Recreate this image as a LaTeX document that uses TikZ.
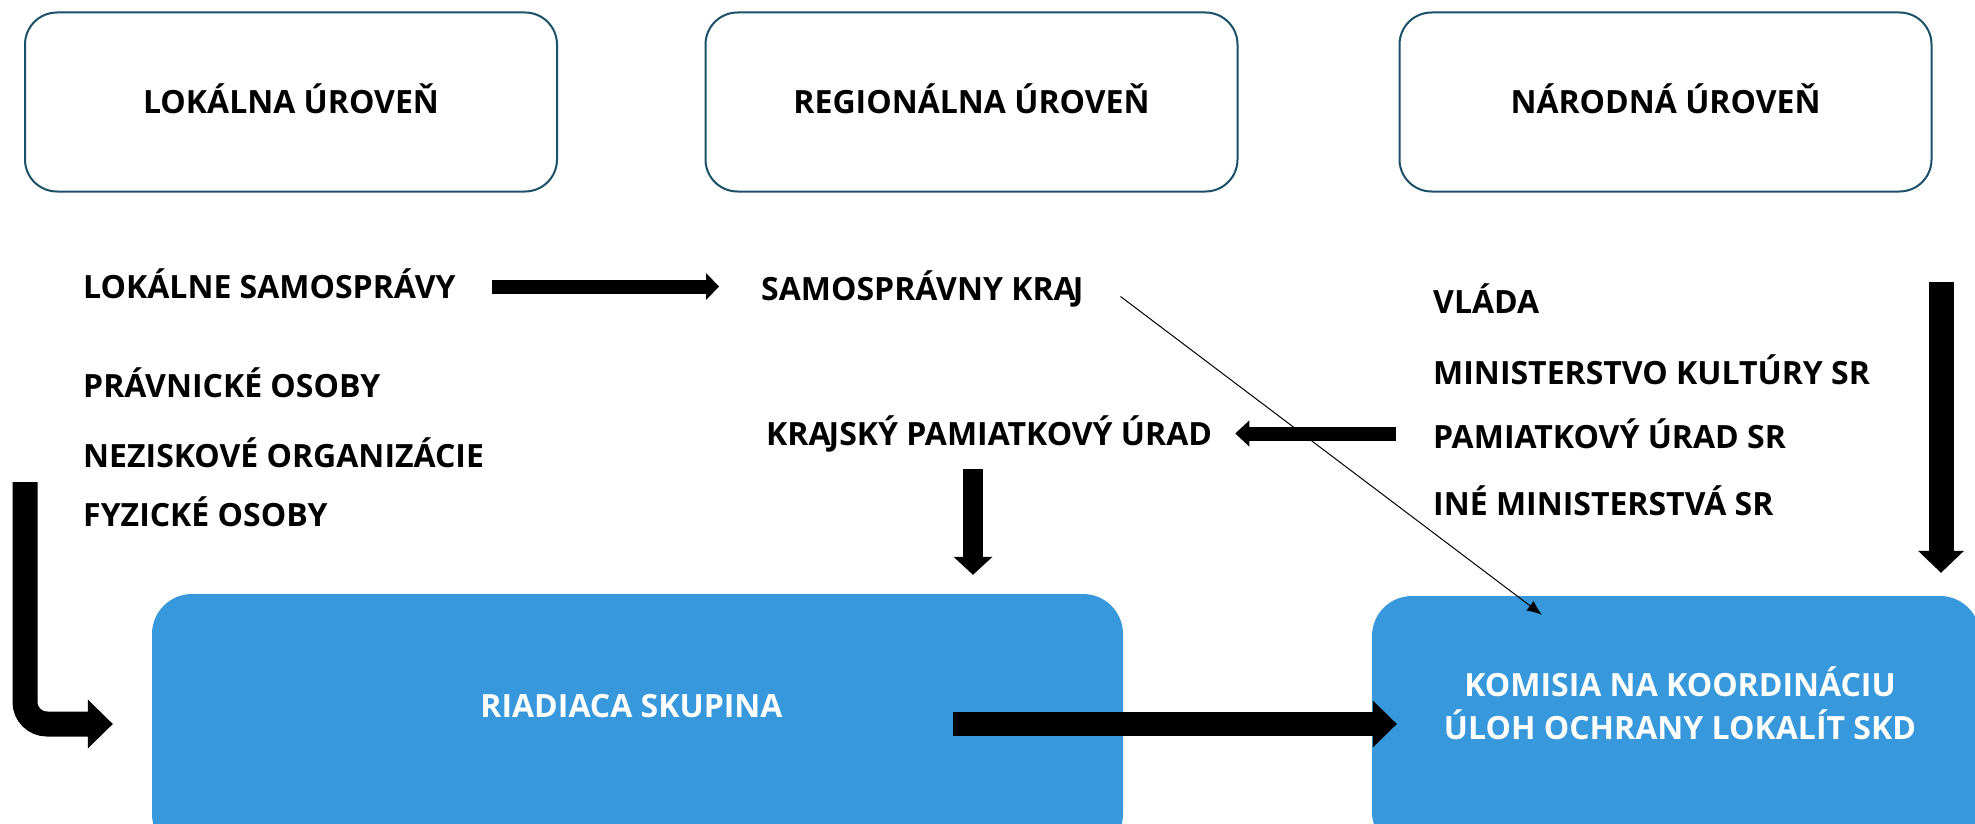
\documentclass[tikz,border=0pt]{standalone}
\usepackage{fontspec}
\setmainfont{Open Sans}
\usepackage{xcolor}
\usetikzlibrary{arrows.meta, positioning}
\definecolor{lvledge}{HTML}{1A5068}
\definecolor{skdblue}{HTML}{3798DB}

\begin{document}
\begin{tikzpicture}[x=1pt, y=-1pt,
  font=\fontsize{32pt}{43pt}\selectfont\bfseries,
  lvl/.style={draw=lvledge, line width=2pt, rounded corners=32pt, minimum width=532pt, minimum height=179pt, inner sep=0pt, text height=23pt, text depth=0pt},
  item/.style={anchor=base west, inner sep=0pt, text height=23pt, text depth=0pt},
  blue/.style={fill=skdblue, rounded corners=40pt, inner sep=0pt},
  blk/.style n args={3}{line width=#1, -{Triangle[length=#2, width=#3, line width=0pt]}}
]
\useasboundingbox (0,0) rectangle (1975,824);

\node[lvl] (lok) at (291,102) {LOKÁLNA ÚROVEŇ};
\node[lvl, right=146.5pt of lok] (reg) {REGIONÁLNA ÚROVEŇ};
\node[lvl, right=160pt of reg] (nar) {NÁRODNÁ ÚROVEŇ};

\node[item] (ls) at (83,298) {LOKÁLNE SAMOSPRÁVY};
\node[item] (po) at (83,397) {PRÁVNICKÉ OSOBY};
\node[item] (no) at (83,467) {NEZISKOVÉ ORGANIZÁCIE};
\node[item] (fo) at (83,526) {FYZICKÉ OSOBY};
\node[item] (sk) at (761,300) {SAMOSPRÁVNY KRA\kern-3pt J};
\node[item] (kpu) at (766,445) {KRA\kern-2pt JSKÝ PAMIATKOVÝ ÚRAD};
\node[item] (vl) at (1433,313) {VLÁDA};
\node[item] (mk) at (1433,384) {MINISTERSTVO KULTÚRY SR};
\node[item] (pam) at (1433,448) {PAMIATKOVÝ ÚRAD SR};
\node[item] (ine) at (1433,515) {INÉ MINISTERSTVÁ SR};

\node[blue, minimum width=971pt, minimum height=260pt,
  label={[white, xshift=-6pt, yshift=18pt]center:RIADIACA SKUPINA}] (rs) at (637.5,724) {};
\node[blue, minimum width=608pt, minimum height=256pt,
  label={[white, align=center, xshift=4pt, yshift=21pt]center:{KOMISIA NA KOORDINÁCIU\\ÚLOH OCHRANY LOKALÍT SKD}}] (km) at (1676,724) {};

\coordinate (loc) at (25,482);
\coordinate (nat) at (1941,282);

\draw[blk={14pt}{13pt}{27pt}, shorten <=36pt, shorten >=42pt] (ls.east) -- (ls.east -| sk.west);
\draw[blk={14pt}{14pt}{26pt}, shorten <=37pt, shorten >=23pt] (kpu.east -| pam.west) -- (kpu.east);
\draw[blk={20pt}{18pt}{39pt}, shorten <=24pt, shorten >=19pt] ([xshift=207pt]kpu.south west) -- ([xshift=207pt]kpu.south west |- rs.north);
\draw[blk={25pt}{22pt}{46pt}, shorten >=23pt] (nat) -- (nat |- km.north);
\draw[blk={25pt}{25pt}{49pt}, rounded corners=22pt] (loc) |- ([xshift=-39pt]rs.west);
\draw[blk={24pt}{24pt}{47pt}] ([xshift=-170pt]rs.east) -- ([xshift=25pt]km.west);
\draw[-{Latex[length=15pt, width=12pt]}, line width=1pt] ([xshift=37pt, yshift=-8pt]sk.east) -- ([xshift=-134pt, yshift=-19pt]km.north);
\end{tikzpicture}
\end{document}
